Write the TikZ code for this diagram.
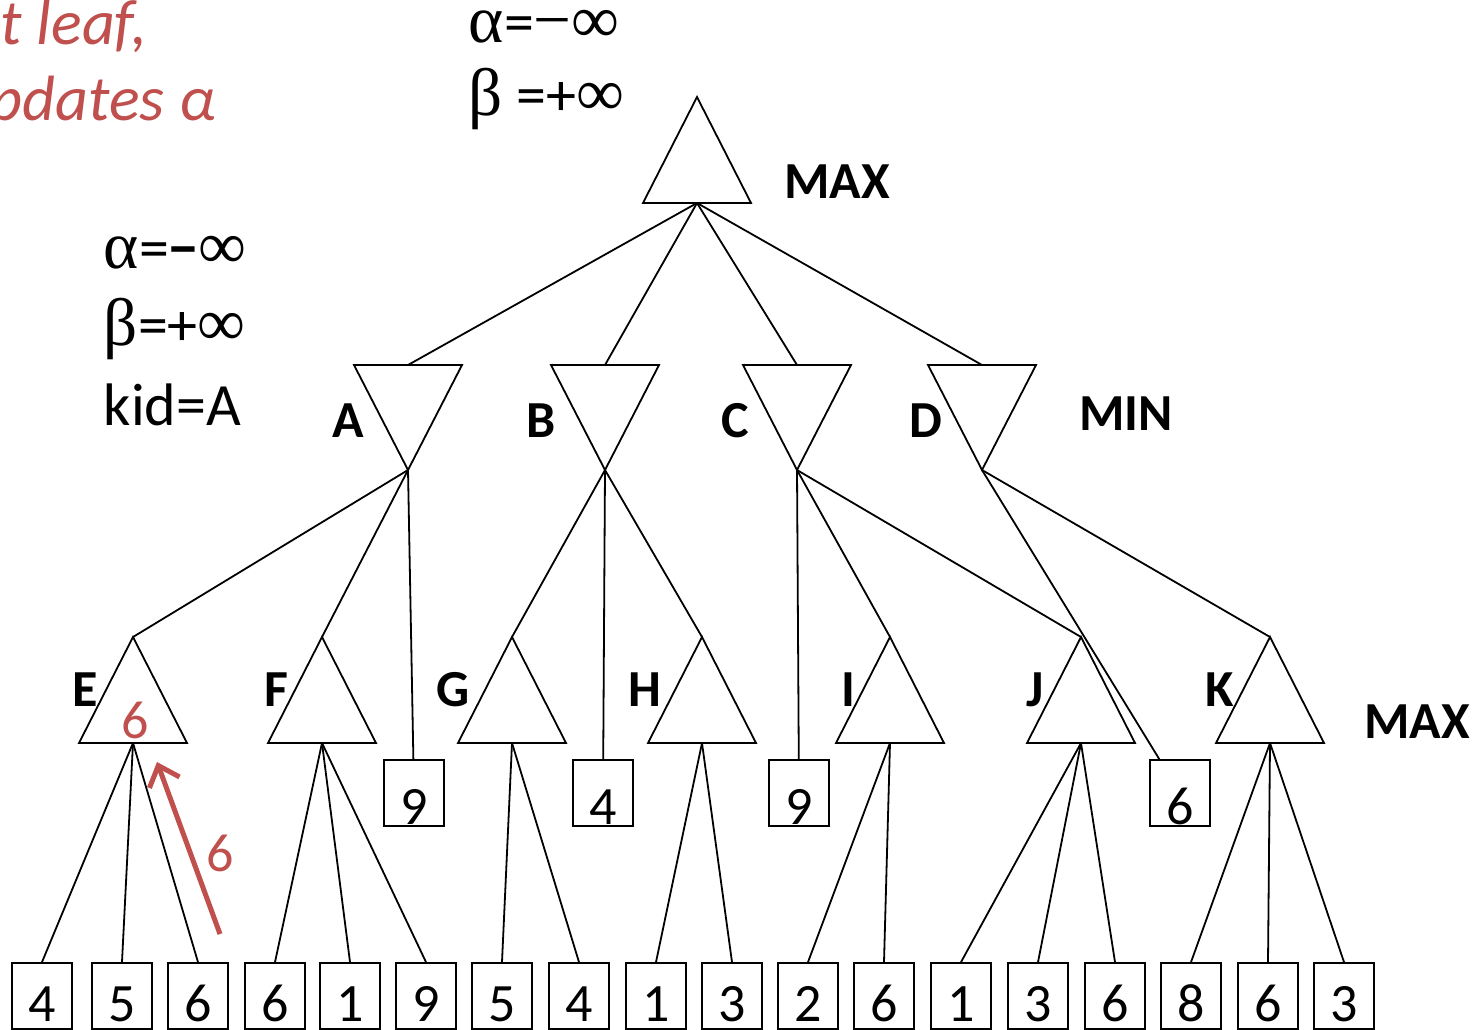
\documentclass[tikz,border=0pt]{standalone}
\usepackage{fontspec}
\setmainfont{Carlito}
\newfontfamily\symb{Liberation Serif}[Scale=1.12]
\usetikzlibrary{arrows.meta}
\definecolor{redtxt}{RGB}{192,80,77}

% MAX node: apex #1, base centre #1b
\newcommand{\maxtri}[3]{%
  \coordinate (#1) at (#2,#3);
  \coordinate (#1b) at (#2,#3+106);
  \draw (#1) -- ++(-54,106) -- ++(108,0) -- cycle;}
% MIN node: apex #1, top centre #1t
\newcommand{\mintri}[3]{%
  \coordinate (#1) at (#2,#3);
  \coordinate (#1t) at (#2,#3-105);
  \draw (#1) -- ++(-54,-105) -- ++(108,0) -- cycle;}

\tikzset{
  leaf/.style={draw, minimum width=30pt, inner sep=0pt, text height=32pt, text depth=1pt,
    font=\fontsize{27}{30}\selectfont},
  lowleaf/.style={leaf, text height=29pt, text depth=4pt},
  lbl/.style={font=\fontsize{26}{30}\selectfont\bfseries},
  big/.style={font=\fontsize{30}{36}\selectfont, anchor=base west, inner sep=0pt},
  note/.style={anchor=base west, inner sep=0pt, text=redtxt, font=\fontsize{32}{36}\selectfont\itshape},
}

\begin{document}
\begin{tikzpicture}[x=0.5pt, y=-0.5pt, line width=0.9pt]
    \useasboundingbox (0,0) rectangle (1482,1029);

    % note
    \node[note] (note1) at (0,44) {t leaf,};
    \node[note] (note2) at (-11,120) {pdates α};

    % root
    \maxtri{R}{697}{97}
    \node[big] (ra) at (468,42) {{\symb α}={\symb −∞}};
    \node[big] (rb) at (468,115) {{\symb β} =+{\symb ∞}};
    \node[lbl] (max1) at (837,182) {MAX};

    % min level
    \mintri{A}{408}{470}
    \mintri{B}{605}{470}
    \mintri{C}{797}{470}
    \mintri{D}{982}{470}
    \node[lbl] (la) at (348,421) {A};
    \node[lbl] (lb) at (541,421) {B};
    \node[lbl] (lc) at (735,421) {C};
    \node[lbl] (ld) at (926,421) {D};
    \node[lbl] (min) at (1126,414) {MIN};
    \node[big] (ka) at (103,268) {{\symb α}=\textbf{−}{\symb ∞}};
    \node[big] (kb) at (103,345) {{\symb β}=+{\symb ∞}};
    \node[big] (kc) at (103,425) {kid=A};
    \draw (Rb) -- (At);
    \draw (Rb) -- (Bt);
    \draw (Rb) -- (Ct);
    \draw (Rb) -- (Dt);

    % max level
    \maxtri{E}{133}{637}
    \maxtri{F}{322}{637}
    \maxtri{G}{512}{637}
    \maxtri{H}{702}{637}
    \maxtri{I}{890}{637}
    \maxtri{J}{1081}{637}
    \maxtri{K}{1270}{637}
    \node[lbl] (le) at (85,690) {E};
    \node[lbl] (lf) at (276,690) {F};
    \node[lbl] (lg) at (453,690) {G};
    \node[lbl] (lh) at (645,690) {H};
    \node[lbl] (li) at (848,690) {I};
    \node[lbl] (lj) at (1035,690) {J};
    \node[lbl] (lk) at (1220,690) {K};
    \node[lbl] (max2) at (1417,722) {MAX};
    \node[leaf] (a9) at (414,793) {9};
    \node[leaf] (b4) at (603,793) {4};
    \node[leaf] (c9) at (799,793) {9};
    \node[leaf] (d6) at (1180,793) {6};
    \draw (A) -- (E);
    \draw (A) -- (F);
    \draw (A) -- (a9);
    \draw (B) -- (G);
    \draw (B) -- (b4);
    \draw (B) -- (H);
    \draw (C) -- (c9);
    \draw (C) -- (I);
    \draw (C) -- (J);
    \draw (D) -- (d6);
    \draw (D) -- (K);

    % leaves
    \node[lowleaf] (e1) at (42,996) {4};
    \node[lowleaf] (e2) at (122,996) {5};
    \node[lowleaf] (e3) at (198,996) {6};
    \node[lowleaf] (f1) at (275,996) {6};
    \node[lowleaf] (f2) at (350,996) {1};
    \node[lowleaf] (f3) at (426,996) {9};
    \node[lowleaf] (g1) at (502,996) {5};
    \node[lowleaf] (g2) at (579,996) {4};
    \node[lowleaf] (h1) at (656,996) {1};
    \node[lowleaf] (h2) at (732,996) {3};
    \node[lowleaf] (i1) at (808,996) {2};
    \node[lowleaf] (i2) at (884,996) {6};
    \node[lowleaf] (j1) at (961,996) {1};
    \node[lowleaf] (j2) at (1038,996) {3};
    \node[lowleaf] (j3) at (1115,996) {6};
    \node[lowleaf] (k1) at (1191,996) {8};
    \node[lowleaf] (k2) at (1268,996) {6};
    \node[lowleaf] (k3) at (1344,996) {3};
    \draw (Eb) -- (e1.north);
    \draw (Eb) -- (e2.north);
    \draw (Eb) -- (e3.north);
    \draw (Fb) -- (f1.north);
    \draw (Fb) -- (f2.north);
    \draw (Fb) -- (f3.north);
    \draw (Gb) -- (g1.north);
    \draw (Gb) -- (g2.north);
    \draw (Hb) -- (h1.north);
    \draw (Hb) -- (h2.north);
    \draw (Ib) -- (i1.north);
    \draw (Ib) -- (i2.north);
    \draw (Jb) -- (j1.north);
    \draw (Jb) -- (j2.north);
    \draw (Jb) -- (j3.north);
    \draw (Kb) -- (k1.north);
    \draw (Kb) -- (k2.north);
    \draw (Kb) -- (k3.north);

    % value backed up to E
    \node[text=redtxt, font=\fontsize{27}{30}\selectfont] (e6) at (135,720) {6};
    \coordinate (up0) at (220,934);
    \coordinate (up1) at (157,762);
    \draw[redtxt, line width=2.5pt, -{Straight Barb[length=9pt,width=16pt]}] (up0) -- (up1);
    \node[text=redtxt, font=\fontsize{27}{30}\selectfont] (up6) at (220,853) {6};
\end{tikzpicture}
\end{document}
